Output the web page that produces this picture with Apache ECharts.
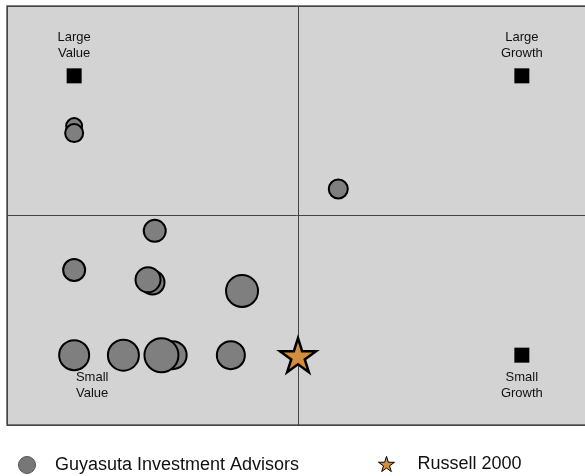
<!DOCTYPE html>
<html>
<head>
<meta charset="utf-8">
<script src="https://cdn.jsdelivr.net/npm/echarts@6/dist/echarts.min.js"></script>
<style>
  html, body { margin: 0; padding: 0; background: #fff; }
  #chart { width: 585px; height: 476px; }
</style>
</head>
<body>
<div id="chart"></div>
<script>
// style box: -100 = value / small, +100 = growth / large
const fundX = [-100, -100, 18, -64, -100, -65, -67, -25, -100, -78, -56, -61, -30];
const fundY = [64, 59, 19, -11, -39, -48, -46, -54, -100, -100, -100, -100, -100];
const fundSize = [16, 18, 19, 22, 22, 24, 25, 32, 30, 31, 28, 34, 28];

const indexX = [0];
const indexY = [-100];

const cornerX = [-100, 100, -100, 100];
const cornerY = [100, 100, -100, -100];
const cornerLabels = ['Large\nValue', 'Large\nGrowth', 'Small\nValue', 'Small\nGrowth'];

const seriesNames = ['Guyasuta Investment Advisors', 'Russell 2000'];

const starPath = 'path://M50,0 L61,35 L98,35 L68,57 L79,91 L50,70 L21,91 L32,57 L2,35 L39,35 Z';
const font = 'Liberation Sans, Arial, sans-serif';

const chart = echarts.init(document.getElementById('chart'));

const corners = cornerX.map((x, i) => {
    const bottom = cornerY[i] < 0;
    return {
        value: [x, cornerY[i]],
        label: {
            show: true,
            formatter: cornerLabels[i],
            position: bottom ? 'bottom' : 'top',
            distance: 7,
            offset: (i === 2) ? [18, 0] : [0, 0]
        }
    };
});

chart.setOption({
    animation: false,
    grid: {
        left: 7, top: 6, width: 582, height: 419,
        outerBoundsMode: 'none',
        show: true,
        backgroundColor: '#d3d3d3',
        borderColor: '#555',
        borderWidth: 1.5
    },
    xAxis: {
        type: 'value', min: -130, max: 130, interval: 130,
        axisLine: { show: false }, axisTick: { show: false }, axisLabel: { show: false },
        splitLine: { show: true, lineStyle: { color: '#444', width: 1 } }
    },
    yAxis: {
        type: 'value', min: -150, max: 150, interval: 150,
        axisLine: { show: false }, axisTick: { show: false }, axisLabel: { show: false },
        splitLine: { show: true, lineStyle: { color: '#444', width: 1 } }
    },
    legend: [
        {
            data: [{ name: seriesNames[0], itemStyle: { color: '#777', borderColor: '#555', borderWidth: 1 } }],
            left: 18, top: 456, padding: 0,
            itemWidth: 18, itemHeight: 17,
            textStyle: { fontFamily: font, fontSize: 18, color: '#111', padding: [0, 0, 0, 14] }
        },
        {
            data: [{ name: seriesNames[1], itemStyle: { borderWidth: 1 } }],
            left: 378, top: 455, padding: 0,
            itemWidth: 16, itemHeight: 16,
            textStyle: { fontFamily: font, fontSize: 18, color: '#111', padding: [0, 0, 0, 18] }
        }
    ],
    series: [
        {
            type: 'scatter',
            symbol: 'rect',
            symbolSize: 15,
            itemStyle: { color: '#000', opacity: 1 },
            label: { fontFamily: font, fontSize: 13, lineHeight: 16, color: '#111' },
            data: corners,
            z: 1
        },
        {
            name: seriesNames[0],
            type: 'scatter',
            symbol: 'circle',
            data: fundX.map((x, i) => [x, fundY[i], fundSize[i]]),
            symbolSize: d => d[2],
            itemStyle: { color: '#7f7f7f', borderColor: '#000', borderWidth: 2, opacity: 1 },
            z: 2
        },
        {
            name: seriesNames[1],
            type: 'scatter',
            symbol: starPath,
            symbolKeepAspect: true,
            symbolSize: 36,
            data: indexX.map((x, i) => [x, indexY[i]]),
            itemStyle: { color: '#d38d3f', borderColor: '#000', borderWidth: 2.5, opacity: 1 },
            z: 3
        }
    ]
});
</script>
</body>
</html>
